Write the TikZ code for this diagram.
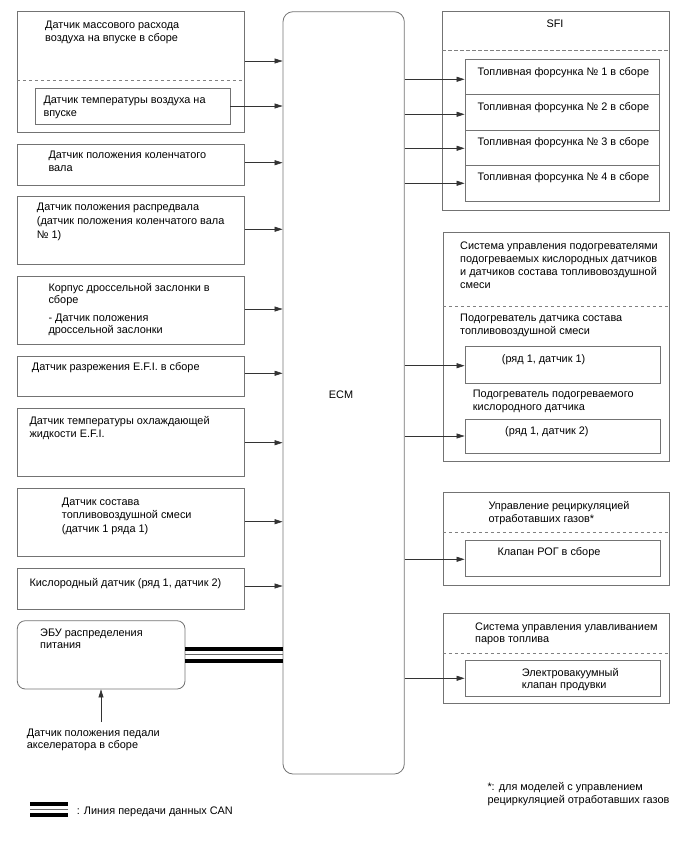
\documentclass[tikz,border=0pt]{standalone}
\usepackage{fontspec}
\setmainfont{Liberation Sans}
\usetikzlibrary{arrows.meta,fit}
\tikzset{
  box/.style={draw=black!55, line width=0.8pt, inner sep=0pt, fit={#1}},
  rbox/.style={draw=black!55, line width=0.8pt, inner sep=0pt, rounded corners=9pt, fit={#1}},
  dsh/.style={draw=black!50, line width=0.7pt, dash pattern=on 3.5pt off 2.5pt},
  arr/.style={draw=black!80, line width=0.7pt, -{Triangle[length=8pt,width=5pt]}},
  txt/.style={anchor=north west, inner sep=0pt, align=left, font=\fontsize{10.9}{13}\selectfont},
  txtb/.style={txt, font=\fontsize{10.9}{12}\selectfont},
  ctxt/.style={anchor=center, inner sep=0pt, font=\fontsize{10.9}{13}\selectfont},
  canthick/.style={draw=black, line width=4pt},
  canthin/.style={draw=black!60, line width=1pt},
}
\begin{document}
\begin{tikzpicture}[x=1pt,y=-1pt]
\useasboundingbox (0,0) rectangle (688,852);
% ---------- left column ----------
\node[box={(17.3,11.7) (244.3,132.7)}] (maf) {};
\node[box={(35,88) (230,124)}] (iat) {};
\draw[dsh] (maf.west |- 0,80.7) -- (maf.east |- 0,80.7);
\node[txt] (maft) at (45,18.8) {\strut Датчик массового расхода\\воздуха на впуске в сборе};
\node[txt] (iatt) at (43.3,94.1) {\strut Датчик температуры воздуха на\\впуске};

\node[box={(17.3,144) (244.3,185)}] (crank) {};
\node[txt] (crankt) at (48.3,148.8) {\strut Датчик положения коленчатого\\вала};

\node[box={(17.3,196.7) (244.3,264)}] (cam) {};
\node[txt,font=\fontsize{10.9}{14}\selectfont] (camt) at (36.7,200.8) {\strut Датчик положения распредвала\\(датчик положения коленчатого вала\\№ 1)};

\node[box={(17.3,276.7) (244.3,344)}] (thr) {};
\node[txtb] (thrt) at (48.3,283.1) {\strut Корпус дроссельной заслонки в\\сборе};
\node[txtb] (thrt2) at (48.3,312.5) {\strut - Датчик положения\\дроссельной заслонки};

\node[box={(17.3,356) (244.3,396.7)}] (vac) {};
\node[txt] (vact) at (31.7,361.5) {\strut Датчик разрежения E.F.I. в сборе};

\node[box={(17.3,408.3) (244.3,476.7)}] (cool) {};
\node[txt] (coolt) at (29.3,414.8) {\strut Датчик температуры охлаждающей\\жидкости E.F.I.};

\node[box={(17.3,488.3) (244.3,556)}] (af) {};
\node[txt,font=\fontsize{10.9}{13.5}\selectfont] (aft) at (61.7,495.5) {\strut Датчик состава\\топливовоздушной смеси\\(датчик 1 ряда 1)};

\node[box={(17.3,568.3) (244.3,609)}] (oxy) {};
\node[txt] (oxyt) at (29.3,577.5) {\strut Кислородный датчик (ряд 1, датчик 2)};

\node[rbox={(17.3,620.7) (185,689)}, rounded corners=8pt] (ebu) {};
\node[txt,font=\fontsize{10.9}{12.5}\selectfont] (ebut) at (40,627.5) {\strut ЭБУ распределения\\питания};

\node[txt,font=\fontsize{10.9}{12.5}\selectfont] (ped) at (26.7,727.5) {\strut Датчик положения педали\\акселератора в сборе};
\coordinate (pedtip) at (101,722);

% ---------- ECM ----------
\node[rbox={(283,11.7) (404.3,774)}, rounded corners=10pt] (ecm) {};
\node[ctxt] (ecmt) at (341,395) {ECM};

% ---------- right column ----------
\node[box={(442.7,11.7) (669,210)}] (sfi) {};
\node[ctxt] (sfit) at (555,24) {SFI};
\draw[dsh] (sfi.west |- 0,50.7) -- (sfi.east |- 0,50.7);
\node[box={(465,59) (659.3,94.7)}] (inj1) {};
\node[box={(465,94.7) (659.3,130)}] (inj2) {};
\node[box={(465,130) (659.3,165.7)}] (inj3) {};
\node[box={(465,165.7) (659.3,201.3)}] (inj4) {};
\node[txt] (inj1t) at (477.3,66.5) {\strut Топливная форсунка № 1 в сборе};
\node[txt] (inj2t) at (477.3,101.5) {\strut Топливная форсунка № 2 в сборе};
\node[txt] (inj3t) at (477.3,136.5) {\strut Топливная форсунка № 3 в сборе};
\node[txt] (inj4t) at (477.3,171.5) {\strut Топливная форсунка № 4 в сборе};

\node[box={(443.3,232.7) (669.3,461.7)}] (heat) {};
\node[txt] (heatt) at (460,239.8) {\strut Система управления подогревателями\\подогреваемых кислородных датчиков\\и датчиков состава топливовоздушной\\смеси};
\draw[dsh] (heat.west |- 0,306) -- (heat.east |- 0,306);
\node[txt] (h1l) at (460,312.1) {\strut Подогреватель датчика состава\\топливовоздушной смеси};
\node[box={(465,346) (660,383.3)}] (h1) {};
\node[txt] (h1t) at (501.7,353.1) {\strut (ряд 1, датчик 1)};
\node[txt] (h2l) at (472.7,388.1) {\strut Подогреватель подогреваемого\\кислородного датчика};
\node[box={(465,419.3) (660,453.3)}] (h2) {};
\node[txt] (h2t) at (505,424.8) {\strut (ряд 1, датчик 2)};

\node[box={(443.3,492.7) (669.3,585)}] (egr) {};
\node[txt,font=\fontsize{10.9}{13.3}\selectfont] (egrt) at (488.3,499.8) {\strut Управление рециркуляцией\\отработавших газов*};
\draw[dsh] (egr.west |- 0,532.3) -- (egr.east |- 0,532.3);
\node[box={(465,540.7) (660,576)}] (egrv) {};
\node[txt] (egrvt) at (497.3,546.5) {\strut Клапан РОГ в сборе};

\node[box={(443.3,613.3) (669.3,703.3)}] (evap) {};
\node[txtb] (evapt) at (475,621.5) {\strut Система управления улавливанием\\паров топлива};
\draw[dsh] (evap.west |- 0,653.3) -- (evap.east |- 0,653.3);
\node[box={(465,660.7) (660,696.7)}] (vsv) {};
\node[txtb] (vsvt) at (521.7,667.5) {\strut Электровакуумный\\клапан продувки};

% ---------- connectors ----------
\draw[arr] (maf.east |- 0,61) -- (ecm.west |- 0,61);
\draw[arr] (iat.east |- 0,106) -- (ecm.west |- 0,106);
\draw[arr] (crank.east |- 0,162.7) -- (ecm.west |- 0,162.7);
\draw[arr] (cam.east |- 0,229.3) -- (ecm.west |- 0,229.3);
\draw[arr] (thr.east |- 0,309) -- (ecm.west |- 0,309);
\draw[arr] (vac.east |- 0,373.3) -- (ecm.west |- 0,373.3);
\draw[arr] (cool.east |- 0,442.7) -- (ecm.west |- 0,442.7);
\draw[arr] (af.east |- 0,521.7) -- (ecm.west |- 0,521.7);
\draw[arr] (oxy.east |- 0,586) -- (ecm.west |- 0,586);

\draw[arr] (ecm.east |- 0,79.3) -- (inj1.west |- 0,79.3);
\draw[arr] (ecm.east |- 0,114.3) -- (inj2.west |- 0,114.3);
\draw[arr] (ecm.east |- 0,148.3) -- (inj3.west |- 0,148.3);
\draw[arr] (ecm.east |- 0,183.3) -- (inj4.west |- 0,183.3);
\draw[arr] (ecm.east |- 0,365.7) -- (h1.west |- 0,365.7);
\draw[arr] (ecm.east |- 0,436) -- (h2.west |- 0,436);
\draw[arr] (ecm.east |- 0,559.3) -- (egrv.west |- 0,559.3);
\draw[arr] (ecm.east |- 0,678.3) -- (vsv.west |- 0,678.3);

\draw[arr] (pedtip) -- (ebu.south -| pedtip);

% CAN bus
\draw[canthick] (ebu.east |- 0,648.7) -- (ecm.west |- 0,648.7);
\draw[canthin] (ebu.east |- 0,654.3) -- (ecm.west |- 0,654.3);
\draw[canthick] (ebu.east |- 0,660.7) -- (ecm.west |- 0,660.7);

% ---------- legend / footnote ----------
\draw[canthick] (30,803.7) -- (68.3,803.7);
\draw[canthin] (30,809.3) -- (68.3,809.3);
\draw[canthick] (30,814.7) -- (68.3,814.7);
\node[txt] (legt) at (76.7,804.8) {\strut : Линия передачи данных CAN};
\node[txt,font=\fontsize{10.9}{12.6}\selectfont] (foot) at (487.3,781.5) {\strut *: для моделей с управлением\\рециркуляцией отработавших газов};
\end{tikzpicture}
\end{document}
